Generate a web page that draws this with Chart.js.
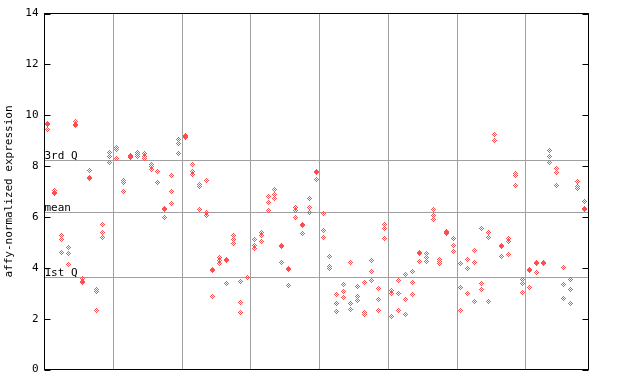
<!DOCTYPE html>
<html>
<head>
<meta charset="utf-8">
<script src="https://cdn.jsdelivr.net/npm/chart.js@4.4.1/dist/chart.umd.min.js"></script>
<style>
html,body{margin:0;padding:0;background:#fff;}
canvas{display:block;}
</style>
</head>
<body>
<canvas id="c" width="640" height="384"></canvas>
<script>
// replicate values per sample column (79 columns, 3 replicates each)
const rep1 = [9.67,7.05,5.26,4.79,9.74,3.57,7.83,3.15,5.69,8.53,
              8.75,7.45,8.43,8.55,8.49,8.06,7.80,6.33,7.64,9.06,
              9.20,8.07,7.27,7.43,3.93,4.42,4.32,5.27,3.45,3.62,
              5.11,5.38,6.80,7.07,4.86,3.97,6.37,5.70,6.72,7.79,
              6.13,4.44,2.94,3.35,4.20,3.25,3.41,4.28,3.18,5.70,
              3.10,3.49,3.73,3.85,4.60,4.55,6.28,4.32,5.43,5.14,
              4.16,4.32,4.67,5.54,5.38,9.25,4.87,5.16,7.72,3.54,
              3.93,4.20,4.20,8.62,7.90,4.00,3.53,7.39,6.60];
const rep2 = [9.64,6.98,5.12,4.55,9.62,3.48,7.57,3.07,5.38,8.36,
              8.66,7.37,8.36,8.45,8.36,7.97,7.78,6.30,6.99,8.90,
              9.15,7.77,7.18,6.17,3.89,4.28,4.28,5.12,2.63,3.61,
              4.86,5.28,6.56,6.90,4.83,3.93,6.27,5.66,6.37,7.75,
              5.46,4.05,2.59,3.05,2.59,2.87,2.25,3.85,2.74,5.55,
              2.97,2.98,2.74,3.44,4.56,4.40,6.07,4.24,5.37,4.87,
              3.22,3.96,4.20,3.37,5.18,9.00,4.83,5.05,7.62,3.39,
              3.91,4.17,4.18,8.37,7.74,3.33,3.14,7.20,6.32];
const rep3 = [9.43,6.92,4.59,4.12,9.58,3.44,7.50,2.32,5.18,8.14,
              8.29,6.99,8.33,8.36,8.30,7.87,7.37,5.97,6.52,8.48,
              9.12,7.65,6.30,6.07,2.86,4.15,3.39,4.95,2.23,3.60,
              4.75,5.03,6.25,6.72,4.20,3.29,5.97,5.34,6.17,7.47,
              5.19,3.97,2.28,2.82,2.35,2.71,2.18,3.49,2.31,5.15,
              2.07,2.31,2.15,2.94,4.24,4.24,5.88,4.18,5.33,4.63,
              2.31,2.98,2.66,3.14,2.66,8.99,4.44,4.51,7.23,3.02,
              3.21,3.81,4.17,8.15,7.23,2.78,2.59,7.11,6.29];
const groupBoundaries = [10.5,20.5,30.5,40.5,50.5,60.5,70.5];
const yTicks = [0,2,4,6,8,10,12,14];
const quartileValues = [8.22,6.21,3.62];
const quartileLabels = ['3rd Q','mean','1st Q'];

const pointColor = 'rgb(255,77,77)';
const gridColor = '#a0a0a0';
const monoFont = 'DejaVu Sans Mono';

function makeDiamond(color){
  const c = document.createElement('canvas');
  c.width = 5; c.height = 5;
  const g = c.getContext('2d');
  g.fillStyle = color;
  for (let dy=-2; dy<=2; dy++) for (let dx=-2; dx<=2; dx++) {
    if (Math.abs(dx)+Math.abs(dy) <= 2 && Math.abs(dx+dy) % 2 === 0) g.fillRect(dx+2, dy+2, 1, 1);
  }
  return c;
}
const diamond = makeDiamond(pointColor);

const points = [];
[rep1, rep2, rep3].forEach(rep => {
  rep.forEach((v, i) => points.push({x: i + 1, y: v}));
});

const decor = {
  id: 'decor',
  beforeDatasetsDraw(chart) {
    const {ctx, chartArea: a, scales: {y}} = chart;
    ctx.save();
    ctx.strokeStyle = gridColor;
    ctx.lineWidth = 1;
    quartileValues.forEach(v => {
      const py = Math.round(y.getPixelForValue(v)) + 0.5;
      ctx.beginPath(); ctx.moveTo(a.left, py); ctx.lineTo(a.right, py); ctx.stroke();
    });
    ctx.fillStyle = '#000';
    ctx.font = '11px "' + monoFont + '"';
    ctx.textAlign = 'left';
    ctx.textBaseline = 'alphabetic';
    quartileValues.forEach((v, i) => {
      const py = Math.round(y.getPixelForValue(v));
      ctx.fillText(quartileLabels[i], a.left, py - 1);
    });
    ctx.restore();
    ctx.imageSmoothingEnabled = false;
  },
  afterDatasetsDraw(chart) {
    const {ctx, chartArea: a, scales: {y}} = chart;
    ctx.save();
    ctx.strokeStyle = '#000';
    ctx.lineWidth = 1;
    ctx.strokeRect(a.left, a.top, a.right - a.left, a.bottom - a.top);
    yTicks.forEach(v => {
      const py = Math.round(y.getPixelForValue(v)) + 0.5;
      ctx.beginPath();
      ctx.moveTo(a.left, py); ctx.lineTo(a.left + 6, py);
      ctx.moveTo(a.right - 6, py); ctx.lineTo(a.right, py);
      ctx.stroke();
    });
    ctx.restore();
  }
};

new Chart(document.getElementById('c'), {
  type: 'scatter',
  data: {
    datasets: [{
      data: points,
      pointStyle: diamond,
      pointRadius: 3,
      pointHoverRadius: 3
    }]
  },
  options: {
    responsive: false,
    devicePixelRatio: 1,
    animation: false,
    events: [],
    layout: {padding: {left: 0, top: 13.5, right: 51.5, bottom: 14.5}},
    plugins: {legend: {display: false}, tooltip: {enabled: false}},
    scales: {
      x: {
        type: 'linear', min: 0.5, max: 79.6,
        afterBuildTicks: s => { s.ticks = groupBoundaries.map(v => ({value: v})); },
        ticks: {display: false},
        grid: {color: gridColor, lineWidth: 1, drawTicks: false},
        border: {display: false},
        afterFit: s => { s.height = 0; }
      },
      y: {
        type: 'linear', min: 0, max: 14,
        afterBuildTicks: s => { s.ticks = yTicks.map(v => ({value: v})); },
        ticks: {font: {family: monoFont, size: 11}, color: '#000', padding: 6},
        grid: {drawOnChartArea: false, drawTicks: false},
        border: {display: false},
        title: {display: true, text: 'affy-normalized expression',
                font: {family: monoFont, size: 11}, color: '#000', padding: {top: 3, bottom: 0}},
        afterFit: s => { s.width = 44.5; }
      }
    }
  },
  plugins: [decor]
});
</script>
</body>
</html>
